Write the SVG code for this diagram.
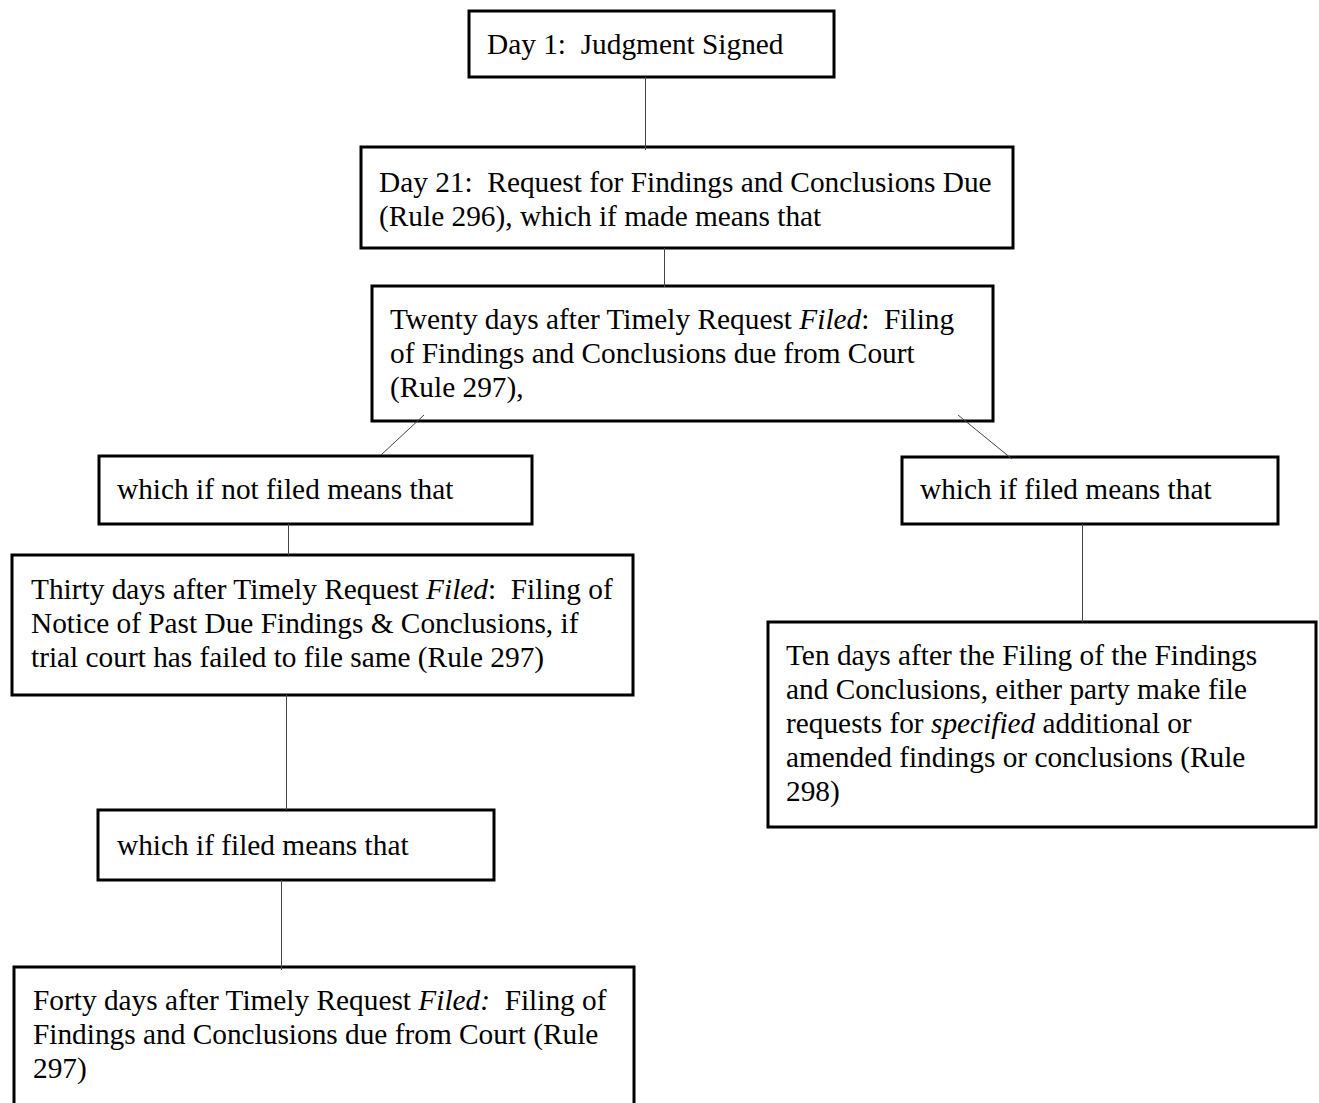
<svg xmlns="http://www.w3.org/2000/svg" width="1319" height="1103" viewBox="0 0 1319 1103">
<style>
.box{fill:#fff;stroke:#000;stroke-width:3}
.t{font-family:"Liberation Serif","Times New Roman",serif;font-size:29.33px;fill:#000;white-space:pre}
.i{font-style:italic}
.c{stroke:#444;stroke-width:1;fill:none}
</style>
<rect width="1319" height="1103" fill="#fff"/>
<g id="n1">
<rect class="box" x="469" y="11" width="365" height="66"/>
<text class="t" x="487" y="54">Day 1:  Judgment Signed</text>
</g>
<g id="n2">
<rect class="box" x="361" y="147" width="652" height="101"/>
<text class="t" x="379" y="192">Day 21:  Request for Findings and Conclusions Due</text>
<text class="t" x="379" y="226">(Rule 296), which if made means that</text>
</g>
<g id="n3">
<rect class="box" x="372" y="286" width="621" height="135"/>
<text class="t" x="390" y="329">Twenty days after Timely Request <tspan class="i">Filed</tspan>:  Filing</text>
<text class="t" x="390" y="363">of Findings and Conclusions due from Court</text>
<text class="t" x="390" y="397">(Rule 297),</text>
</g>
<g id="n4">
<rect class="box" x="99" y="456" width="433" height="68"/>
<text class="t" x="117" y="499">which if not filed means that</text>
</g>
<g id="n5">
<rect class="box" x="902" y="457" width="376" height="67"/>
<text class="t" x="920" y="499">which if filed means that</text>
</g>
<g id="n6">
<rect class="box" x="12" y="555" width="621" height="140"/>
<text class="t" x="31" y="599">Thirty days after Timely Request <tspan class="i">Filed</tspan>:  Filing of</text>
<text class="t" x="31" y="633">Notice of Past Due Findings &amp; Conclusions, if</text>
<text class="t" x="31" y="667">trial court has failed to file same (Rule 297)</text>
</g>
<g id="n7">
<rect class="box" x="768" y="622" width="548" height="205"/>
<text class="t" x="786" y="665">Ten days after the Filing of the Findings</text>
<text class="t" x="786" y="699">and Conclusions, either party make file</text>
<text class="t" x="786" y="733">requests for <tspan class="i">specified</tspan> additional or</text>
<text class="t" x="786" y="767">amended findings or conclusions (Rule</text>
<text class="t" x="786" y="801">298)</text>
</g>
<g id="n8">
<rect class="box" x="98" y="810" width="396" height="70"/>
<text class="t" x="117" y="855">which if filed means that</text>
</g>
<g id="n9">
<rect class="box" x="14" y="967" width="620" height="150"/>
<text class="t" x="33" y="1010">Forty days after Timely Request <tspan class="i">Filed:</tspan>  Filing of</text>
<text class="t" x="33" y="1044">Findings and Conclusions due from Court (Rule</text>
<text class="t" x="33" y="1078">297)</text>
</g>
<g id="connectors">
<line class="c" x1="645.5" y1="77" x2="645.5" y2="150"/>
<line class="c" x1="664.5" y1="248" x2="664.5" y2="287"/>
<line class="c" x1="424" y1="415" x2="381" y2="455"/>
<line class="c" x1="958" y1="415" x2="1012" y2="459"/>
<line class="c" x1="288.5" y1="524" x2="288.5" y2="555"/>
<line class="c" x1="1082.5" y1="524" x2="1082.5" y2="622"/>
<line class="c" x1="286.5" y1="695" x2="286.5" y2="810"/>
<line class="c" x1="281.5" y1="880" x2="281.5" y2="970"/>
</g>
</svg>
